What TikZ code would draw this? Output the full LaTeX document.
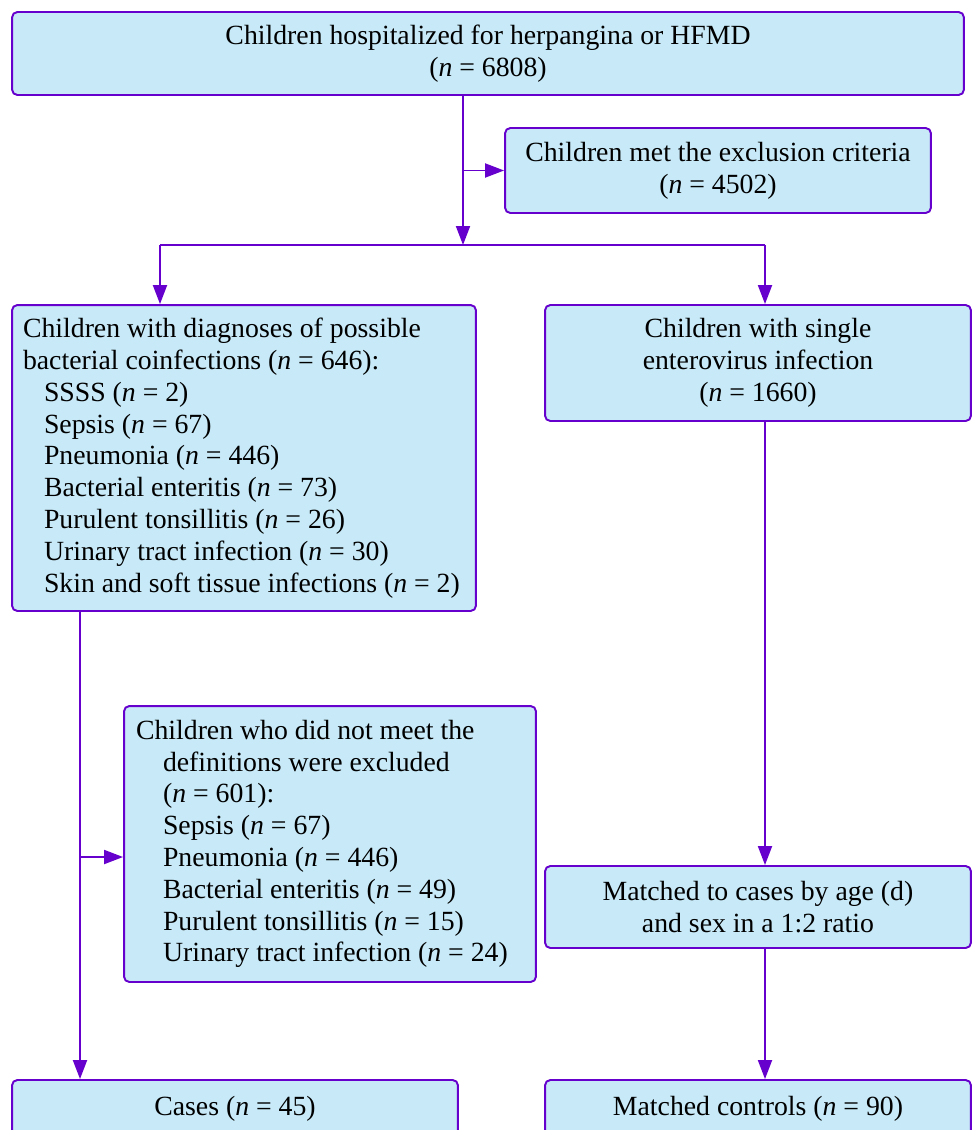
\documentclass[tikz,border=0pt]{standalone}
\usepackage{fontspec}
\setmainfont{Liberation Serif}
\usetikzlibrary{arrows.meta}
\definecolor{boxfill}{RGB}{200,234,248}
\definecolor{boxline}{RGB}{102,0,204}
\newcommand{\nn}{\textit{n}}
\begin{document}
\begin{tikzpicture}[x=0.02cm,y=-0.02cm,
  box/.style={draw=boxline, fill=boxfill, line width=1.1pt, rounded corners=3pt,
    inner sep=0pt, font=\fontsize{15.8}{18.1}\selectfont},
  link/.style={draw=boxline, line width=1.1pt},
  arr/.style={link, -{Triangle[length=0.38cm,width=0.28cm]}}]
\useasboundingbox (0,0) rectangle (973,1130);
\pgfmathsetmacro{\ind}{0.42};
\pgfmathsetmacro{\indb}{0.54};
% boxes
\node[box, minimum width=19.04cm, minimum height=1.66cm, align=center] (hosp) at (488,53.5)
  {Children hospitalized for herpangina or HFMD\\(\nn{} = 6808)};
\node[box, minimum width=8.52cm, minimum height=1.70cm, align=center] (excl) at (718,170.5)
  {Children met the exclusion criteria\\(\nn{} = 4502)};
\node[box, minimum width=9.28cm, minimum height=6.12cm, text width=8.84cm, align=flush left] (coinf) at (244,458)
  {Children with diagnoses of possible\\
   bacterial coinfections (\nn{} = 646):\\
   \hspace*{\ind cm}SSSS (\nn{} = 2)\\
   \hspace*{\ind cm}Sepsis (\nn{} = 67)\\
   \hspace*{\ind cm}Pneumonia (\nn{} = 446)\\
   \hspace*{\ind cm}Bacterial enteritis (\nn{} = 73)\\
   \hspace*{\ind cm}Purulent tonsillitis (\nn{} = 26)\\
   \hspace*{\ind cm}Urinary tract infection (\nn{} = 30)\\
   \hspace*{\ind cm}Skin and soft tissue infections (\nn{} = 2)};
\node[box, minimum width=8.52cm, minimum height=2.32cm, align=center] (single) at (758,363)
  {Children with single\\enterovirus infection\\(\nn{} = 1660)};
\node[box, minimum width=8.24cm, minimum height=5.52cm, text width=7.76cm, align=flush left] (notdef) at (330,844)
  {Children who did not meet the\\
   \hspace*{\indb cm}definitions were excluded\\
   \hspace*{\indb cm}(\nn{} = 601):\\
   \hspace*{\indb cm}Sepsis (\nn{} = 67)\\
   \hspace*{\indb cm}Pneumonia (\nn{} = 446)\\
   \hspace*{\indb cm}Bacterial enteritis (\nn{} = 49)\\
   \hspace*{\indb cm}Purulent tonsillitis (\nn{} = 15)\\
   \hspace*{\indb cm}Urinary tract infection (\nn{} = 24)};
\node[box, minimum width=8.52cm, minimum height=1.64cm, align=center] (match) at (758,907)
  {Matched to cases by age (d)\\and sex in a 1:2 ratio};
\node[box, minimum width=8.92cm, minimum height=1.16cm] (cases) at (235,1109) {Cases (\nn{} = 45)};
\node[box, minimum width=8.52cm, minimum height=1.16cm] (ctrl) at (758,1109) {Matched controls (\nn{} = 90)};
% connectors
\coordinate (split) at (463,245);
\coordinate (splitL) at (160,245);
\coordinate (splitR) at (765,245);
\coordinate (leftx) at (80,857);
\draw[arr] (hosp.south -| split) -- (split);
\draw[arr] (split |- excl.west) -- (excl.west);
\draw[link] (splitL) -- (splitR);
\draw[arr] (splitL) -- (splitL |- coinf.north);
\draw[arr] (splitR) -- (splitR |- single.north);
\draw[arr] (coinf.south -| leftx) -- (cases.north -| leftx);
\draw[arr] (leftx) -- (leftx -| notdef.west);
\draw[arr] (single.south -| splitR) -- (match.north -| splitR);
\draw[arr] (match.south -| splitR) -- (ctrl.north -| splitR);
\end{tikzpicture}
\end{document}
